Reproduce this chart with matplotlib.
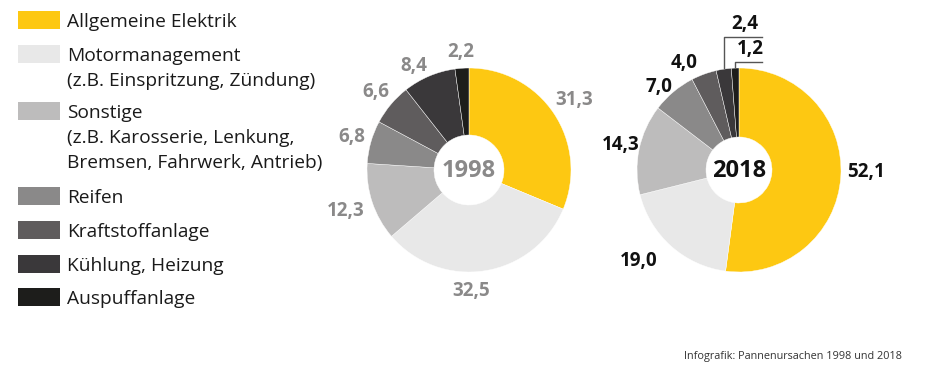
import numpy as np
import matplotlib
matplotlib.use("Agg")
import matplotlib.pyplot as plt

categories = ["Allgemeine Elektrik",
              "Motormanagement\n(z.B. Einspritzung, Zündung)",
              "Sonstige\n(z.B. Karosserie, Lenkung,\nBremsen, Fahrwerk, Antrieb)",
              "Reifen", "Kraftstoffanlage", "Kühlung, Heizung", "Auspuffanlage"]
values_1998 = [31.3, 32.5, 12.3, 6.8, 6.6, 8.4, 2.2]
values_2018 = [52.1, 19.0, 14.3, 7.0, 4.0, 2.4, 1.2]
labels_1998 = ["31,3", "32,5", "12,3", "6,8", "6,6", "8,4", "2,2"]
labels_2018 = ["52,1", "19,0", "14,3", "7,0", "4,0", "2,4", "1,2"]
colors = ["#FDC812", "#E8E8E8", "#BDBCBC", "#8A8989", "#5F5C5D", "#3A383A", "#1D1D1B"]

FONT = ["Open Sans", "DejaVu Sans"]
W, H = 930, 382
fig = plt.figure(figsize=(W / 100, H / 100), dpi=100)
ax = fig.add_axes([0, 0, 1, 1])
ax.set_xlim(0, W)
ax.set_ylim(0, H)
ax.set_aspect("equal")
ax.axis("off")

def Y(y):
    return H - y

R = 102

def draw_pie(values, labels, cx, cy, r_in, year, txtcolor, dist, nudges, skip):
    wedges, _ = ax.pie(values, colors=colors, startangle=90, counterclock=False,
                       center=(cx, Y(cy)), radius=R, normalize=True,
                       wedgeprops=dict(width=R - r_in, linewidth=0.3, edgecolor="white"),
                       frame=True)
    ax.set_xlim(0, W)
    ax.set_ylim(0, H)
    ax.axis("off")
    ax.text(cx, Y(cy) - 1, year, ha="center", va="center", fontsize=17,
            fontweight="bold", color=txtcolor, family=FONT)
    mids = []
    for i, w in enumerate(wedges):
        mid = np.deg2rad((w.theta1 + w.theta2) / 2)
        mids.append(mid)
        if i in skip:
            continue
        da, dd = nudges[i]
        a = mid + np.deg2rad(da)
        d = dist[i]
        ax.text(cx + d * np.cos(a), Y(cy) + d * np.sin(a), labels[i], ha="center",
                va="center", fontsize=13.5, fontweight="bold", color=txtcolor, family=FONT)
    return mids

draw_pie(values_1998, labels_1998, 469, 170, 35, "1998", "#8A8989",
         [126, 121, 130, 122, 121, 118, 118],
         [(0, 0), (-8, 0), (0, 0), (0, 0), (0, 0), (5, 0), (0, 0)], skip=[])

mids = draw_pie(values_2018, labels_2018, 739, 170, 33, "2018", "#111111",
                [127, 136, 121, 115, 120, 0, 0],
                [(3, 0), (-6, 0), (0, 0), (4, 0), (7, 0), (0, 0), (0, 0)], skip=[5, 6])

# leader lines for small 2018 slices
cx, cy = 739, Y(170)
for idx, ytop, xend in [(5, Y(37), 762), (6, Y(62), 762)]:
    a = mids[idx]
    x0 = cx + R * np.cos(a)
    y0 = cy + R * np.sin(a)
    ax.plot([x0, x0, xend], [y0 + 1, ytop, ytop], color="#555555", lw=1)
    ax.text((x0 + xend) / 2 + 2, ytop + 3, labels_2018[idx], ha="center", va="bottom",
            fontsize=13.5, fontweight="bold", color="#111111", family=FONT)

# legend
legend_y = [20, 54, 111, 196, 230, 264, 297]
for c, lab, y in zip(colors, categories, legend_y):
    ax.add_patch(plt.Rectangle((18, Y(y) - 9), 42, 18, color=c, lw=0))
    for k, line in enumerate(lab.split("\n")):
        ax.text(67, Y(y + 7 + 25 * k), line, ha="left", va="baseline", fontsize=13.8,
                color="#1a1a1a", family=FONT)

ax.text(684, Y(357), "Infografik: Pannenursachen 1998 und 2018", ha="left", va="center",
        fontsize=7.8, color="#333333", family=FONT)

fig.savefig("out.png", dpi=100)
